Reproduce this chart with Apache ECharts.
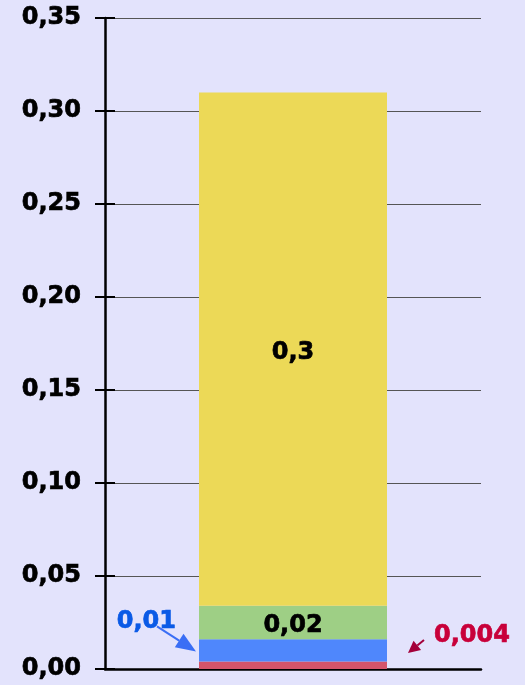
<!DOCTYPE html>
<html>
<head>
<meta charset="utf-8">
<script src="https://cdn.jsdelivr.net/npm/echarts@6/dist/echarts.min.js"></script>
<style>
html, body { margin: 0; padding: 0; background: #e3e3fc; }
#container { width: 525px; height: 685px; }
</style>
</head>
<body>
<div id="container"></div>
<script>
// data
const categories = ['total'];
const segNames = ['red', 'blue', 'green', 'yellow'];
const redVals = [0.004];
const blueVals = [0.012];
const greenVals = [0.018];
const yellowVals = [0.276];
const segLabels = ['0,004', '0,01', '0,02', '0,3'];
const yMin = 0, yMax = 0.35, yStep = 0.05;

const fontFam = '"DejaVu Sans", sans-serif';
const fs = 24;
const colors = ['#d4546a', '#4f87fc', '#9ecf85', '#ecd957'];

function fmt(v){
	return v.toFixed(2).replace('.', ',');
}
// bold text, a bit heavier
function txt(color){
	return {
		color: color, fontSize: fs, fontWeight: 'bold', fontFamily: fontFam,
		textBorderColor: color, textBorderWidth: 0.7
	};
}

const dom = document.getElementById('container');
const myChart = echarts.init(dom);

const grid = { left: 105, right: 44, top: 18, bottom: 16 };
const valueAxisBase = {
	type: 'value', min: yMin, max: yMax, interval: yStep
};

let option = {
	backgroundColor: '#e3e3fc',
	animation: false,
	grid: grid,
	xAxis: [
		{
			type: 'category', data: categories,
			axisLine: { lineStyle: { color: '#000', width: 2.5 } },
			axisTick: { length: 10, lineStyle: { color: '#000', width: 2 } },
			axisLabel: { show: false }
		},
		{
			type: 'category', data: categories, position: 'bottom',
			axisLine: { show: false },
			axisTick: { inside: true, length: 10, lineStyle: { color: '#000', width: 2 } },
			axisLabel: { show: false }
		}
	],
	yAxis: [
		Object.assign({}, valueAxisBase, {
			axisLine: { show: true, lineStyle: { color: '#000', width: 2.5 } },
			axisTick: { show: true, length: 10, lineStyle: { color: '#000', width: 2 } },
			splitLine: { lineStyle: { color: '#555', width: 1 } },
			axisLabel: Object.assign({ margin: 24, formatter: fmt }, txt('#000'))
		}),
		Object.assign({}, valueAxisBase, {
			position: 'left',
			axisLine: { show: false },
			axisTick: { show: true, inside: true, length: 10, lineStyle: { color: '#000', width: 2 } },
			splitLine: { show: false },
			axisLabel: { show: false }
		})
	],
	series: [
		{
			name: segNames[0], type: 'bar', stack: 's', data: redVals, barWidth: '50%',
			itemStyle: { color: colors[0] },
			label: Object.assign({
				show: true, position: 'right', distance: 47, offset: [0, -30],
				formatter: segLabels[0]
			}, txt('#c8003a'))
		},
		{
			name: segNames[1], type: 'bar', stack: 's', data: blueVals,
			itemStyle: { color: colors[1] },
			label: Object.assign({
				show: true, position: 'left', distance: 23, offset: [0, -29],
				formatter: segLabels[1]
			}, txt('#0a5ae6'))
		},
		{
			name: segNames[2], type: 'bar', stack: 's', data: greenVals,
			itemStyle: { color: colors[2] },
			label: Object.assign({
				show: true, position: 'inside', offset: [0, 3],
				formatter: segLabels[2]
			}, txt('#000'))
		},
		{
			name: segNames[3], type: 'bar', stack: 's', data: yellowVals,
			itemStyle: { color: colors[3] },
			label: Object.assign({
				show: true, position: 'inside', offset: [0, 4],
				formatter: segLabels[3]
			}, txt('#000'))
		}
	]
};
myChart.setOption(option, true);

// arrows, placed relative to the bar segments
function arrow(x1, y1, x2, y2, color, head, w){
	let ang = Math.atan2(y2 - y1, x2 - x1);
	let bx = x2 - head * Math.cos(ang), by = y2 - head * Math.sin(ang);
	let px = -Math.sin(ang) * w, py = Math.cos(ang) * w;
	return [
		{ type: 'line', shape: { x1: x1, y1: y1, x2: bx, y2: by }, style: { stroke: color, lineWidth: 2 } },
		{ type: 'polygon', shape: { points: [[x2, y2], [bx + px, by + py], [bx - px, by - py]] }, style: { fill: color } }
	];
}
let leftTop = myChart.convertToPixel({ xAxisIndex: 0, yAxisIndex: 0 }, [0, redVals[0] + blueVals[0]]);
let leftBot = myChart.convertToPixel({ xAxisIndex: 0, yAxisIndex: 0 }, [0, redVals[0]]);
let barHalf = (dom.clientWidth - grid.left - grid.right) / 4;
let blueMidY = (leftTop[1] + leftBot[1]) / 2;
let barLeft = leftTop[0] - barHalf, barRight = leftTop[0] + barHalf;
let zeroY = myChart.convertToPixel({ yAxisIndex: 0 }, 0);

let graphics = []
	.concat(arrow(barLeft - 42, blueMidY - 24, barLeft - 3, blueMidY + 1, '#3a6ef5', 20, 8))
	.concat(arrow(barRight + 37, zeroY - 29, barRight + 21, zeroY - 16, '#a3003a', 12, 6));
myChart.setOption({ graphic: graphics });
</script>
</body>
</html>
